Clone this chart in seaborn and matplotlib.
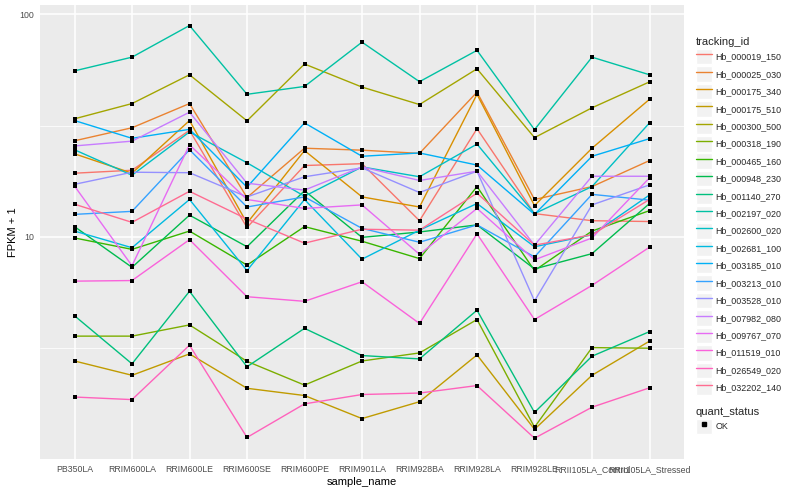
import numpy as np
import pandas as pd
import matplotlib
matplotlib.use("Agg")
import matplotlib.pyplot as plt
import seaborn as sns
from matplotlib.lines import Line2D
from matplotlib.patches import Rectangle
from matplotlib.legend_handler import HandlerLine2D
from matplotlib.ticker import FixedLocator, NullFormatter

# ---------------- data ----------------
samples = ["PB350LA", "RRIM600LA", "RRIM600LE", "RRIM600SE", "RRIM600PE",
           "RRIM901LA", "RRIM928BA", "RRIM928LA", "RRIM928LE",
           "RRII105LA_Control", "RRII105LA_Stressed"]

tracking_ids = ["Hb_000019_150", "Hb_000025_030", "Hb_000175_340", "Hb_000175_510",
                "Hb_000300_500", "Hb_000318_190", "Hb_000465_160", "Hb_000948_230",
                "Hb_001140_270", "Hb_002197_020", "Hb_002600_020", "Hb_002681_100",
                "Hb_003185_010", "Hb_003213_010", "Hb_003528_010", "Hb_007982_080",
                "Hb_009767_070", "Hb_011519_010", "Hb_026549_020", "Hb_032202_140"]

Hb_000019_150 = [19.3, 19.9, 30.1, 11.0, 20.9, 21.3, 11.8, 30.6, 12.7, 11.8, 11.7]
Hb_000025_030 = [27.0, 30.9, 39.7, 15.0, 25.0, 24.5, 23.7, 44.7, 14.7, 16.8, 22.0]
Hb_000175_340 = [23.6, 19.3, 33.3, 11.5, 24.4, 15.1, 13.6, 43.7, 13.8, 25.0, 41.5]
Hb_000175_510 = [2.76, 2.38, 2.97, 2.08, 1.93, 1.52, 1.81, 2.94, 1.36, 2.38, 3.39]
Hb_000300_500 = [33.9, 39.7, 53.5, 33.2, 59.8, 47.1, 39.3, 56.9, 27.9, 38.0, 49.7]
Hb_000318_190 = [3.57, 3.57, 4.01, 2.75, 2.15, 2.76, 3.00, 4.24, 1.39, 3.17, 3.15]
Hb_000465_160 = [9.87, 8.77, 10.6, 7.45, 11.1, 9.54, 7.97, 16.8, 7.04, 10.6, 13.1]
Hb_000948_230 = [11.1, 7.28, 12.5, 9.01, 16.1, 9.93, 10.5, 11.3, 7.16, 8.39, 14.1]
Hb_001140_270 = [4.41, 2.68, 5.68, 2.60, 3.87, 2.92, 2.82, 4.67, 1.62, 2.90, 3.74]
Hb_002197_020 = [55.7, 64.2, 89.1, 43.7, 47.4, 75.0, 49.8, 68.9, 30.3, 64.2, 53.5]
Hb_002600_020 = [24.6, 18.9, 29.6, 21.5, 15.2, 20.6, 18.6, 26.1, 12.7, 16.8, 32.5]
Hb_002681_100 = [10.6, 8.92, 14.7, 7.04, 14.7, 7.92, 10.7, 14.1, 9.01, 10.2, 15.4]
Hb_003185_010 = [33.3, 27.7, 30.4, 16.7, 32.5, 23.0, 23.8, 21.0, 12.6, 23.0, 27.6]
Hb_003213_010 = [12.6, 13.0, 24.6, 13.6, 15.1, 10.9, 9.44, 11.3, 8.11, 15.5, 14.6]
Hb_003528_010 = [17.2, 19.5, 19.4, 15.1, 18.6, 20.4, 15.8, 19.7, 5.14, 13.9, 17.1]
Hb_007982_080 = [25.6, 26.9, 36.3, 17.4, 16.2, 20.6, 17.9, 19.7, 9.16, 18.7, 18.7]
Hb_009767_070 = [16.9, 7.40, 25.9, 14.7, 13.4, 13.9, 8.33, 13.4, 7.87, 9.87, 18.4]
Hb_011519_010 = [6.31, 6.35, 9.70, 5.37, 5.12, 6.27, 4.07, 10.3, 4.24, 6.04, 8.97]
Hb_026549_020 = [1.90, 1.85, 3.25, 1.25, 1.77, 1.95, 1.98, 2.14, 1.24, 1.71, 2.09]
Hb_032202_140 = [14.0, 11.6, 16.0, 12.0, 9.35, 10.8, 10.7, 15.7, 9.16, 10.2, 14.7]

series = [Hb_000019_150, Hb_000025_030, Hb_000175_340, Hb_000175_510, Hb_000300_500,
          Hb_000318_190, Hb_000465_160, Hb_000948_230, Hb_001140_270, Hb_002197_020,
          Hb_002600_020, Hb_002681_100, Hb_003185_010, Hb_003213_010, Hb_003528_010,
          Hb_007982_080, Hb_009767_070, Hb_011519_010, Hb_026549_020, Hb_032202_140]

quant_status = ["OK"]

# ggplot2 default hue palette for 20 levels
palette = ["#F8766D", "#EA8331", "#D89000", "#C09B00", "#A3A500", "#7CAE00",
           "#39B600", "#00BB4E", "#00BF7D", "#00C1A3", "#00BFC4", "#00BAE0",
           "#00B0F6", "#35A2FF", "#9590FF", "#C77CFF", "#E76BF3", "#FA62DB",
           "#FF62BC", "#FF6C91"]

rows = []
for tid, vals in zip(tracking_ids, series):
    for s, v in zip(samples, vals):
        rows.append({"tracking_id": tid, "sample_name": s, "FPKM": v, "quant_status": "OK"})
df = pd.DataFrame(rows)

# ---------------- style ----------------
sns.set_style("darkgrid", {"axes.facecolor": "#EBEBEB", "grid.color": "white"})
plt.rcParams["font.family"] = ["Liberation Sans", "DejaVu Sans"]

fig = plt.figure(figsize=(8, 5), dpi=100)
ax = fig.add_axes([0.05, 0.082, 0.805, 0.908])
ax.set_yscale("log")

sns.lineplot(data=df, x="sample_name", y="FPKM", hue="tracking_id",
             hue_order=tracking_ids, palette=palette, ax=ax, legend=False,
             linewidth=1.0, sort=False, estimator=None)
sns.scatterplot(data=df, x="sample_name", y="FPKM", color="black", marker="s",
                s=7, linewidth=0, ax=ax, legend=False, zorder=5)

ax.set_xlim(-0.6, len(samples) - 0.4)
ax.set_ylim(1.0, 110.2)
ax.set_yticks([10, 100])
ax.set_yticklabels(["10", "100"])
ax.yaxis.set_minor_locator(FixedLocator([10 ** 0.5, 10 ** 1.5]))
ax.yaxis.set_minor_formatter(NullFormatter())
ax.grid(which="major", color="white", linewidth=1.1)
ax.grid(which="minor", axis="y", color="white", linewidth=0.55)
ax.set_axisbelow(True)
ax.tick_params(which="minor", length=0)
ax.tick_params(which="major", length=3, width=0.8, color="#333333",
               labelsize=6.3, labelcolor="#4D4D4D", pad=1.5)
for sp in ax.spines.values():
    sp.set_visible(False)

ax.set_xlabel("sample_name", fontsize=8, labelpad=2, color="black")
ax.set_ylabel("FPKM + 1", fontsize=8, labelpad=1, color="black")


class KeyHandler(HandlerLine2D):
    def create_artists(self, legend, orig_handle, xdescent, ydescent,
                       width, height, fontsize, trans):
        bg = Rectangle((-xdescent, -ydescent), width, height, facecolor="#F2F2F2",
                       edgecolor="white", linewidth=1.0, transform=trans)
        arts = super().create_artists(legend, orig_handle, xdescent, ydescent,
                                      width, height, fontsize, trans)
        return [bg] + list(arts)


leg_kw = dict(loc="upper left", frameon=False, borderpad=0, borderaxespad=0,
              fontsize=6.4, title_fontsize=8, handlelength=1.75,
              handleheight=2.3, labelspacing=0.22, handletextpad=0.45,
              alignment="left")

line_handles = [Line2D([0], [0], color=c, lw=1.0) for c in palette]
leg1 = fig.legend(line_handles, tracking_ids, bbox_to_anchor=(0.870, 0.926),
                  title="tracking_id", handler_map={Line2D: KeyHandler()}, **leg_kw)

pt_handle = [Line2D([0], [0], color="black", linestyle="", marker="s", markersize=2.5)]
leg2 = fig.legend(pt_handle, quant_status, bbox_to_anchor=(0.870, 0.186),
                  title="quant_status", handler_map={Line2D: KeyHandler(numpoints=1)},
                  **leg_kw)

fig.savefig("out.png", dpi=100)
